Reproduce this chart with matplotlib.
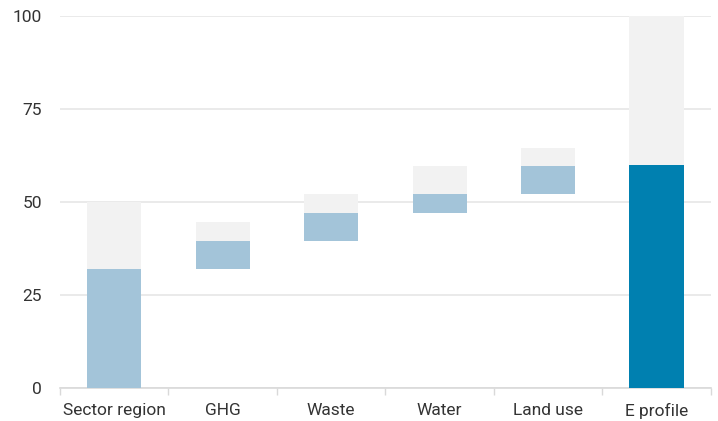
import matplotlib
matplotlib.use("Agg")
import matplotlib.pyplot as plt
import numpy as np

categories = ["Sector region", "GHG", "Waste", "Water", "Land use", "E profile"]
# achieved contribution per step (blue) and remaining potential (grey)
achieved = [32, 7.5, 7.5, 5, 7.5, 60]
potential = [18, 5, 5, 7.5, 5, 40]
is_total = [False, False, False, False, False, True]
yticks = [0, 25, 50, 75, 100]

plt.rcParams['font.family'] = ['Roboto', 'DejaVu Sans']

fig = plt.figure(figsize=(7.18, 4.21), dpi=100)
ax = fig.add_axes([0.0836, 0.0784, 0.9064, 0.8843])

x = np.arange(len(categories))
bottoms = []
running = 0
for i, a in enumerate(achieved):
    if is_total[i]:
        bottoms.append(0)
    else:
        bottoms.append(running)
        running += a
bottoms = np.array(bottoms)
ach = np.array(achieved)
pot = np.array(potential)

colors = ['#0080b0' if t else '#a3c4d9' for t in is_total]
ax.bar(x, ach, bottom=bottoms, width=0.5, color=colors, zorder=3, linewidth=0)
ax.bar(x, pot, bottom=bottoms + ach, width=0.5, color='#f2f2f2', zorder=3, linewidth=0)

ax.set_xlim(-0.5, len(categories) - 0.5)
ax.set_ylim(0, 100)
ax.set_yticks(yticks)
ax.set_yticklabels([str(v) for v in yticks])
ax.grid(axis='y', color='#e6e6e6', linewidth=1.2, zorder=0)
ax.set_axisbelow(True)

ax.set_xticks(x)
ax.set_xticklabels(categories)
ax.set_xticks(np.arange(-0.5, len(categories)), minor=True)
ax.tick_params(axis='x', which='major', length=0, pad=11, labelsize=12.5, labelcolor='#333333')
ax.tick_params(axis='x', which='minor', length=5, color='#d9d9d9', width=1)
ax.tick_params(axis='y', length=0, pad=13, labelsize=12.5, labelcolor='#333333')

for s in ['top', 'right', 'left']:
    ax.spines[s].set_visible(False)
ax.spines['bottom'].set_color('#d9d9d9')
ax.spines['bottom'].set_linewidth(1.2)

fig.savefig("out.png", dpi=100)
